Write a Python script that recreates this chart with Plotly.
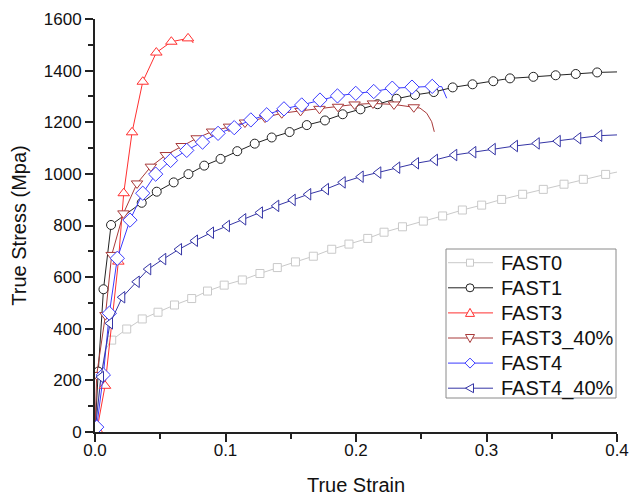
import plotly.graph_objects as go

# ---- data ----
fast0_x = [0.0128, 0.0243, 0.0362, 0.0483, 0.0609, 0.0741, 0.0862, 0.0990, 0.1129, 0.1264,
           0.1397, 0.1536, 0.1673, 0.1814, 0.1946, 0.2090, 0.2215, 0.2356, 0.2516, 0.2664,
           0.2815, 0.2963, 0.3116, 0.3277, 0.3435, 0.3594, 0.3742, 0.3913]
fast0_y = [356, 399, 438, 464, 492, 517, 546, 569, 589, 614,
           637, 659, 681, 708, 728, 750, 774, 795, 817, 837,
           860, 879, 901, 921, 940, 960, 979, 998]
fast0_head_x = [0.0, 0.004, 0.008]
fast0_head_y = [0, 200, 320]
fast0_tail_x = [0.4]
fast0_tail_y = [1007]

fast1_x = [0.0025, 0.0065, 0.0123, 0.0358, 0.0473, 0.0603, 0.0716, 0.0837, 0.0962, 0.1090,
           0.1224, 0.1354, 0.1491, 0.1623, 0.1762, 0.1898, 0.2034, 0.2165, 0.2310, 0.2452,
           0.2596, 0.2741, 0.2893, 0.3052, 0.3180, 0.3359, 0.3530, 0.3684, 0.3848]
fast1_y = [234, 553, 802, 888, 931, 967, 999, 1032, 1058, 1088,
           1117, 1141, 1162, 1189, 1207, 1231, 1250, 1270, 1291, 1306,
           1317, 1335, 1347, 1359, 1370, 1376, 1382, 1387, 1393]
fast1_head_x = [0.0]
fast1_head_y = [0]
fast1_tail_x = [0.4]
fast1_tail_y = [1395]

fast3_x = [0.0015, 0.0077, 0.0179, 0.0220, 0.0284, 0.0366, 0.0470, 0.0585, 0.0713]
fast3_y = [8, 179, 660, 925, 1161, 1357, 1470, 1512, 1525]
fast3_head_x = [0.0]
fast3_head_y = [0]
fast3_tail_x = [0.0735, 0.0753]
fast3_tail_y = [1520, 1507]

fast3_40_x = [0.0013, 0.0080, 0.0128, 0.0218, 0.0322, 0.0428, 0.0543, 0.0664, 0.0779, 0.0897,
              0.1027, 0.1149, 0.1303, 0.1431, 0.1575, 0.1720, 0.1862, 0.1989, 0.2130, 0.2291,
              0.2443]
fast3_40_y = [221, 453, 686, 847, 963, 1028, 1073, 1108, 1138, 1164,
              1183, 1199, 1218, 1235, 1244, 1252, 1260, 1269, 1273, 1269,
              1258]
fast3_40_head_x = [0.0]
fast3_40_head_y = [0]
fast3_40_tail_x = [0.2490, 0.2542, 0.2580, 0.2600]
fast3_40_tail_y = [1255, 1235, 1202, 1163]

fast4_x = [0.0013, 0.0064, 0.0110, 0.0171, 0.0268, 0.0366, 0.0465, 0.0579, 0.0703, 0.0824,
           0.0943, 0.1067, 0.1194, 0.1316, 0.1448, 0.1584, 0.1724, 0.1858, 0.1998, 0.2136,
           0.2278, 0.2429, 0.2584]
fast4_y = [19, 221, 460, 673, 821, 925, 999, 1052, 1091, 1123,
           1157, 1179, 1209, 1229, 1252, 1267, 1286, 1302, 1312, 1319,
           1332, 1336, 1339]
fast4_head_x = [0.0]
fast4_head_y = [0]
fast4_tail_x = [0.2657, 0.2695]
fast4_tail_y = [1338, 1293]

fast4_40_x = [0.0046, 0.0115, 0.0209, 0.0320, 0.0408, 0.0523, 0.0644, 0.0766, 0.0889, 0.1011,
              0.1136, 0.1264, 0.1389, 0.1515, 0.1634, 0.1770, 0.1898, 0.2036, 0.2171, 0.2316,
              0.2460, 0.2605, 0.2753, 0.2899, 0.3048, 0.3218, 0.3385, 0.3546, 0.3703, 0.3864]
fast4_40_y = [213, 421, 522, 582, 631, 670, 708, 741, 772, 798,
              824, 850, 876, 899, 921, 941, 967, 989, 1005, 1024,
              1041, 1054, 1073, 1084, 1096, 1108, 1118, 1127, 1138, 1148]
fast4_40_head_x = [0.0]
fast4_40_head_y = [0]
fast4_40_tail_x = [0.4]
fast4_40_tail_y = [1151]

series_names = ["FAST0", "FAST1", "FAST3", "FAST3_40%", "FAST4", "FAST4_40%"]
x_ticks = [0.0, 0.1, 0.2, 0.3, 0.4]
x_tick_labels = ["0.0", "0.1", "0.2", "0.3", "0.4"]
y_ticks = [0, 200, 400, 600, 800, 1000, 1200, 1400, 1600]

# ---- styles ----
colors = ["#c9c9c9", "#222222", "#ff3030", "#a83a3a", "#3a3aff", "#3535a5"]
symbols = ["square", "circle", "triangle-up", "triangle-down", "diamond", "triangle-left"]
sizes = [8, 9, 10, 10, 11, 10]

data = [
    (fast0_x, fast0_y, fast0_head_x, fast0_head_y, fast0_tail_x, fast0_tail_y),
    (fast1_x, fast1_y, fast1_head_x, fast1_head_y, fast1_tail_x, fast1_tail_y),
    (fast3_x, fast3_y, fast3_head_x, fast3_head_y, fast3_tail_x, fast3_tail_y),
    (fast3_40_x, fast3_40_y, fast3_40_head_x, fast3_40_head_y, fast3_40_tail_x, fast3_40_tail_y),
    (fast4_x, fast4_y, fast4_head_x, fast4_head_y, fast4_tail_x, fast4_tail_y),
    (fast4_40_x, fast4_40_y, fast4_40_head_x, fast4_40_head_y, fast4_40_tail_x, fast4_40_tail_y),
]

fig = go.Figure()
for (mx, my, hx, hy, tx, ty), col in zip(data, colors):
    fig.add_trace(go.Scatter(x=hx + [mx[0]], y=hy + [my[0]], mode="lines",
                             line=dict(color=col, width=1), showlegend=False,
                             hoverinfo="skip"))
    fig.add_trace(go.Scatter(x=[mx[-1]] + tx, y=[my[-1]] + ty, mode="lines",
                             line=dict(color=col, width=1), showlegend=False,
                             hoverinfo="skip"))
for (mx, my, hx, hy, tx, ty), name, col, sym, sz in zip(data, series_names, colors, symbols, sizes):
    fig.add_trace(go.Scatter(x=mx, y=my, mode="lines+markers", name=name, showlegend=False,
                             line=dict(color=col, width=1),
                             marker=dict(symbol=sym, size=sz, color="white",
                                         line=dict(color=col, width=1))))

# ---- hand-made legend (box, sample lines, symbols, labels) ----
PL, PR, PT, PB = 95, 617, 19, 432  # plot area in pixels


def px_x(p):
    return (p - PL) / (PR - PL)


def px_y(p):
    return (PB - p) / (PB - PT)


shapes = [dict(type="rect", xref="paper", yref="paper",
               x0=px_x(446), x1=px_x(616), y0=px_y(398), y1=px_y(249),
               line=dict(color="#8a8a8a", width=1), fillcolor="white", layer="above")]
annotations = []
# pixel-sized symbol outlines (y offsets point upwards)
sym_paths = {
    "square": "M-3.5,-3.5 L3.5,-3.5 L3.5,3.5 L-3.5,3.5 Z",
    "triangle-up": "M0,4.5 L4.5,-3.5 L-4.5,-3.5 Z",
    "triangle-down": "M0,-4.5 L4.5,3.5 L-4.5,3.5 Z",
    "diamond": "M0,-5 L5,0 L0,5 L-5,0 Z",
    "triangle-left": "M-4.5,0 L3.5,-4.5 L3.5,4.5 Z",
}
for i, (name, col, sym) in enumerate(zip(series_names, colors, symbols)):
    cy = 262.7 + i * 25.1
    shapes.append(dict(type="line", xref="paper", yref="paper",
                       x0=px_x(448), x1=px_x(493), y0=px_y(cy), y1=px_y(cy),
                       line=dict(color=col, width=1), layer="above"))
    if sym == "circle":
        shapes.append(dict(type="circle", xref="paper", yref="paper",
                           xsizemode="pixel", ysizemode="pixel",
                           xanchor=px_x(470), yanchor=px_y(cy),
                           x0=-4, x1=4, y0=-4, y1=4,
                           line=dict(color=col, width=1), fillcolor="white", layer="above"))
    else:
        shapes.append(dict(type="path", xref="paper", yref="paper",
                           xsizemode="pixel", ysizemode="pixel",
                           xanchor=px_x(470), yanchor=px_y(cy),
                           path=sym_paths[sym],
                           line=dict(color=col, width=1), fillcolor="white", layer="above"))
    annotations.append(dict(text=name, xref="paper", yref="paper",
                            x=px_x(499), y=px_y(cy), xanchor="left", yanchor="middle",
                            showarrow=False,
                            font=dict(family="Liberation Sans, Arial, sans-serif",
                                      size=20, color="#111111")))

font_family = "Liberation Sans, Arial, sans-serif"
axis_common = dict(
    showline=True, linecolor="#222222", linewidth=2, mirror=False, automargin=False,
    showgrid=False, zeroline=False, ticks="outside", ticklen=8, tickwidth=2,
    tickcolor="#222222", tickfont=dict(family=font_family, size=17, color="#111111"),
)
fig.update_layout(
    width=630, height=496,
    margin=dict(l=PL, r=630 - PR, t=PT, b=496 - PB),
    paper_bgcolor="white", plot_bgcolor="white",
    font=dict(family=font_family, color="#111111"),
    xaxis=dict(range=[0, 0.4], tickvals=x_ticks, ticktext=x_tick_labels,
               ticklabelstandoff=-6,
               minor=dict(dtick=0.05, ticks="outside", ticklen=5, tickwidth=2,
                          tickcolor="#222222"),
               title=dict(text="True Strain", font=dict(size=20), standoff=20),
               **axis_common),
    yaxis=dict(range=[0, 1600], tickvals=y_ticks,
               minor=dict(dtick=100, ticks="outside", ticklen=5, tickwidth=2,
                          tickcolor="#222222"),
               title=dict(text="True Stress (Mpa)", font=dict(size=20), standoff=12),
               **axis_common),
    shapes=shapes,
    annotations=annotations,
    showlegend=False,
)
fig.write_html("out.html", config={"displayModeBar": False},
               post_script="document.body.style.margin='0';document.body.style.overflow='hidden';")
